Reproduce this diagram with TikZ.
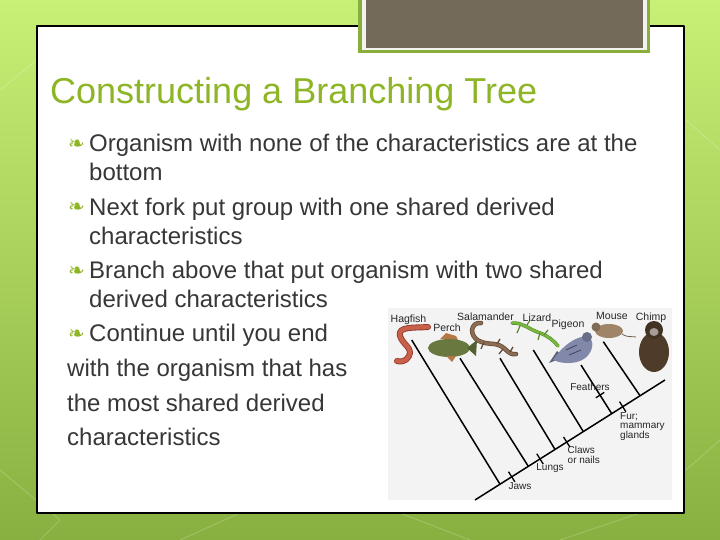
\documentclass[tikz,border=0pt]{standalone}
\usepackage{fontspec}
\setmainfont{Liberation Sans}
\newfontfamily\dejavu{DejaVu Sans}
\usetikzlibrary{calc}
\definecolor{titlegreen}{RGB}{141,181,38}
\definecolor{bodygray}{RGB}{55,55,55}
\definecolor{bggreentop}{RGB}{200,240,118}
\definecolor{bggreenbot}{RGB}{136,176,64}
\definecolor{frameolive}{RGB}{138,174,58}
\definecolor{ringwhite}{RGB}{242,242,238}
\definecolor{boxbrown}{RGB}{115,106,90}
\definecolor{imggray}{RGB}{243,243,243}
\definecolor{hagred}{RGB}{200,96,74}
\definecolor{hagdark}{RGB}{150,60,45}
\definecolor{perchgreen}{RGB}{105,120,62}
\definecolor{perchfin}{RGB}{180,120,70}
\definecolor{salbrown}{RGB}{140,108,82}
\definecolor{lizgreen}{RGB}{120,184,60}
\definecolor{pigeongray}{RGB}{130,136,170}
\definecolor{mousebrown}{RGB}{160,132,104}
\definecolor{chimpbrown}{RGB}{78,59,42}
\tikzset{
  body/.style={anchor=base west, inner sep=0pt, text=bodygray, font=\fontsize{24}{28}\selectfont},
  bul/.style={anchor=base west, inner sep=0pt, text=titlegreen, font=\dejavu\fontsize{20}{22}\selectfont},
  branch/.style={line width=1.5pt, black},
  tickmark/.style={line width=1.3pt, black},
  toplab/.style={inner sep=0pt, text=black!85, font=\fontsize{10.5}{11}\selectfont},
  clab/.style={inner sep=0pt, text=black!85, font=\fontsize{10}{11}\selectfont},
}
\begin{document}
\begin{tikzpicture}[x=1pt,y=-1pt,line join=round]
\useasboundingbox (0,0) rectangle (720,540);
% background
\shade[top color=bggreentop, bottom color=bggreenbot] (0,0) rectangle (720,540);
\begin{scope}[white, opacity=0.18, line width=1pt]
  \draw (0,470) -- (60,520) -- (40,540);
  \draw (180,540) -- (240,513);
  \draw (400,513) -- (470,540);
  \draw (560,540) -- (640,513);
  \draw (686,470) -- (720,440);
  \draw (686,120) -- (720,150);
  \draw (0,90) -- (37,60);
\end{scope}
% panel
\draw[fill=white, draw=black, line width=1.2pt] (37,26) rectangle (684,513);
% top brown box
\fill[frameolive] (358,-2) rectangle (650,53);
\fill[ringwhite] (361.5,-2) rectangle (646.5,50);
\fill[boxbrown] (366,-2) rectangle (642.7,48.3);
% title
\node[anchor=base west, inner sep=0pt, text=titlegreen, font=\fontsize{36}{40}\selectfont] (title) at (50,104) {Constructing a Branching Tree};
% bullets and body text
\node[bul] (b1) at (68,151) {❧};
\node[body] (l1) at (89,152) {Organism with none of the characteristics are at the};
\node[body] (l2) at (89,181) {bottom};
\node[bul] (b2) at (68,214) {❧};
\node[body] (l3) at (89,215) {Next fork put group with one shared derived};
\node[body] (l4) at (89,244) {characteristics};
\node[bul] (b3) at (68,277) {❧};
\node[body] (l5) at (89,278) {Branch above that put organism with two shared};
\node[body] (l6) at (89,307) {derived characteristics};
\node[bul] (b4) at (68,340) {❧};
\node[body] (l7) at (89,341) {Continue until you end};
\node[body] (l8) at (67,376) {with the organism that has};
\node[body] (l9) at (67,411) {the most shared derived};
\node[body] (l10) at (67,445) {characteristics};
% cladogram image area
\fill[imggray] (388,308) rectangle (672,500);
% animals
\draw[line width=6pt, hagdark, line cap=round] (428,327) .. controls (415,328) and (397,326) .. (400,336) .. controls (403,345) and (413,348) .. (409,356) .. controls (406,362) and (400,362) .. (397,361);
\draw[line width=4.2pt, hagred, line cap=round] (428,327) .. controls (415,328) and (397,326) .. (400,336) .. controls (403,345) and (413,348) .. (409,356) .. controls (406,362) and (400,362) .. (397,361);
\fill[perchfin] (440,339) -- (446,333) -- (456,336) -- (458,340) -- cycle;
\fill[perchgreen] (449,348) ellipse (21 and 9);
\fill[perchgreen!80!black] (467,348) -- (477,340) -- (476,356) -- cycle;
\fill[perchfin] (446,356) -- (452,362) -- (456,356) -- cycle;
\draw[line width=4.5pt, salbrown!70!black, line cap=round] (481,323) .. controls (470,322) and (469,336) .. (479,341) .. controls (490,346) and (496,341) .. (505,349) .. controls (509,353) and (512,355) .. (516,354);
\draw[line width=3pt, salbrown, line cap=round] (481,323) .. controls (470,322) and (469,336) .. (479,341) .. controls (490,346) and (496,341) .. (505,349) .. controls (509,353) and (512,355) .. (516,354);
\draw[line width=1.3pt, salbrown!70!black] (484,342) -- (481,349) (497,344) -- (500,339) (503,349) -- (499,354) (510,352) -- (513,347);
\draw[line width=3.5pt, lizgreen!75!black, line cap=round] (512,323) .. controls (522,322) and (530,330) .. (540,333) .. controls (548,336) and (553,340) .. (558,346);
\draw[line width=2.3pt, lizgreen, line cap=round] (512,323) .. controls (522,322) and (530,330) .. (540,333) .. controls (548,336) and (553,340) .. (558,346);
\draw[line width=1.2pt, lizgreen!75!black] (520,326) -- (517,333) (527,325) -- (530,320) (540,333) -- (538,340) (544,335) -- (548,330);
\fill[pigeongray!70!black] (549,363) -- (557,351) -- (564,357) -- cycle;
\fill[pigeongray] (553,360) .. controls (562,346) and (578,334) .. (589,337) .. controls (597,344) and (590,359) .. (577,362) .. controls (568,364) and (560,363) .. cycle;
\fill[pigeongray!80!black] (587,337) circle (5);
\draw[line width=0.8pt, pigeongray!50!black] (566,350) -- (577,345) (569,355) -- (581,350);
\fill[mousebrown] (609,331) ellipse (14 and 7);
\fill[mousebrown!80!black] (596,327) circle (4.5);
\draw[line width=0.8pt, mousebrown!70!black] (622,334) .. controls (628,338) and (632,336) .. (636,337);
\fill[chimpbrown] (654,352) ellipse (15 and 20);
\fill[chimpbrown!85!black] (654,330) circle (9);
\fill[chimpbrown!50!white] (654,332) ellipse (4.5 and 4);
% cladogram coordinates
\coordinate (m0) at (475,500);
\coordinate (m1) at (665,380);
\coordinate (jh) at (500,484.2);
\coordinate (jp) at (528.3,466.3);
\coordinate (js) at (555,449.4);
\coordinate (jl) at (583.3,431.6);
\coordinate (jg) at (611.7,413.6);
\coordinate (jm) at (640,395.7);
\coordinate (th) at (411.7,340);
\coordinate (tp) at (460,358.3);
\coordinate (ts) at (500,358.3);
\coordinate (tl) at (533.3,350);
\coordinate (tg) at (581,365);
\coordinate (tm) at (603.3,341.7);
\coordinate (kj) at (511.7,476.8);
\coordinate (kl) at (540,458.9);
\coordinate (kc) at (566.7,442);
\coordinate (kf) at (622.7,406.7);
\coordinate (kr) at (600,395.1);
% lines
\draw[branch] (m0) -- (m1);
\draw[branch] (th) -- (jh);
\draw[branch] (tp) -- (jp);
\draw[branch] (ts) -- (js);
\draw[branch] (tl) -- (jl);
\draw[branch] (tg) -- (jg);
\draw[branch] (tm) -- (jm);
\draw[tickmark] ($(kj)+(-3.2,-5.1)$) -- ($(kj)+(3.2,5.1)$);
\draw[tickmark] ($(kl)+(-3.2,-5.1)$) -- ($(kl)+(3.2,5.1)$);
\draw[tickmark] ($(kc)+(-3.2,-5.1)$) -- ($(kc)+(3.2,5.1)$);
\draw[tickmark] ($(kf)+(-3.2,-5.1)$) -- ($(kf)+(3.2,5.1)$);
\draw[tickmark] ($(kr)+(-4.2,2.7)$) -- ($(kr)+(4.2,-2.7)$);
% top labels
\node[toplab] (nh) at (408.5,319.5) {Hagfish};
\node[toplab] (np) at (447,328) {Perch};
\node[toplab] (ns) at (485.5,317) {Salamander};
\node[toplab] (nl) at (537,317.5) {Lizard};
\node[toplab] (ng) at (568,325) {Pigeon};
\node[toplab] (nm) at (612,316) {Mouse};
\node[toplab] (nc) at (651,317.5) {Chimp};
% character labels
\node[clab] (cfe) at (590,387) {Feathers};
\node[clab, anchor=north west, align=left, font=\fontsize{10}{9.3}\selectfont] (cfu) at (620,412) {Fur;\\mammary\\glands};
\node[clab, anchor=north west, align=left, font=\fontsize{10}{10}\selectfont] (ccl) at (567.5,446) {Claws\\or nails};
\node[clab] (clu) at (550,468.5) {Lungs};
\node[clab] (cja) at (520,486) {Jaws};
\end{tikzpicture}
\end{document}
